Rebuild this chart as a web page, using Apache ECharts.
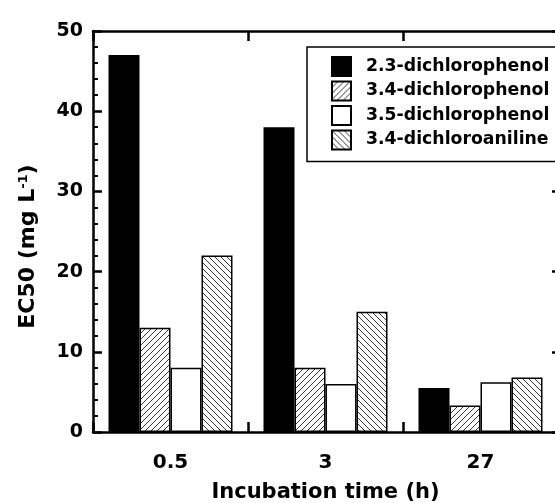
<!DOCTYPE html>
<html><head><meta charset="utf-8">
<script src="https://cdn.jsdelivr.net/npm/echarts@6/dist/echarts.min.js"></script>
<style>html,body{margin:0;padding:0;background:#fff}#c{width:555px;height:503px}</style>
</head><body><div id="c"></div>
<script>
const categories = ['0.5', '3', '27'];
const seriesNames = ['2.3-dichlorophenol', '3.4-dichlorophenol', '3.5-dichlorophenol', '3.4-dichloroaniline'];
const dcp23 = [47, 38, 5.5];
const dcp34 = [13, 8, 3.3];
const dcp35 = [8, 6, 6.2];
const dca34 = [22, 15, 6.8];
const yTicks = [0, 10, 20, 30, 40, 50];

function hatch(dir) {
  const s = 6, c = document.createElement('canvas');
  c.width = s; c.height = s;
  const g = c.getContext('2d');
  g.fillStyle = '#fff'; g.fillRect(0, 0, s, s);
  g.strokeStyle = '#222'; g.lineWidth = 0.9;
  g.beginPath();
  if (dir === '/') {
    g.moveTo(-1, s + 1); g.lineTo(s + 1, -1);
    g.moveTo(-1, 1); g.lineTo(1, -1);
    g.moveTo(s - 1, s + 1); g.lineTo(s + 1, s - 1);
  } else {
    g.moveTo(-1, -1); g.lineTo(s + 1, s + 1);
    g.moveTo(s - 1, -1); g.lineTo(s + 1, 1);
    g.moveTo(-1, s - 1); g.lineTo(1, s + 1);
  }
  g.stroke();
  return { image: c, repeat: 'repeat' };
}

const font = 'DejaVu Sans';
const fills = ['#000', hatch('/'), '#fff', hatch('\\')];
const datas = [dcp23, dcp34, dcp35, dca34];

const chart = echarts.init(document.getElementById('c'), null, { renderer: 'canvas' });
const axisLine = { show: true, onZero: false, lineStyle: { color: '#000', width: 2.5 } };
chart.setOption({
  animation: false,
  backgroundColor: '#fff',
  grid: { left: 93, top: 31, right: -3, bottom: 71, containLabel: false, outerBoundsMode: 'none' },
  legend: {
    orient: 'vertical', left: 307, top: 47, z: 20,
    backgroundColor: '#fff',
    borderColor: '#000', borderWidth: 1.5, borderRadius: 0,
    padding: [9, 40, 11, 24],
    itemWidth: 19, itemHeight: 19, itemGap: 3.5,
    icon: 'rect',
    textStyle: { fontFamily: font, fontWeight: 'bold', fontSize: 17.3, color: '#000', padding: [0, 0, 0, 10] },
    data: seriesNames
  },
  xAxis: [{
    type: 'category', data: categories, position: 'bottom',
    axisLine: axisLine,
    axisTick: { show: true, inside: true, length: 10, lineStyle: { color: '#000', width: 2.5 } },
    axisLabel: { fontFamily: font, fontWeight: 'bold', fontSize: 20, color: '#000', margin: 21 },
    name: 'Incubation time (h)', nameLocation: 'middle', nameGap: 50,
    nameTextStyle: { fontFamily: font, fontWeight: 'bold', fontSize: 21, color: '#000' }
  }, {
    type: 'category', data: categories, position: 'top',
    axisLine: axisLine,
    axisTick: { show: true, inside: true, length: 10, lineStyle: { color: '#000', width: 2.5 } },
    axisLabel: { show: false }
  }],
  yAxis: [{
    type: 'value', min: yTicks[0], max: yTicks[yTicks.length - 1], interval: 10, position: 'left',
    axisLine: axisLine,
    axisTick: { show: true, inside: true, length: 9, lineStyle: { color: '#000', width: 2.5 } },
    minorTick: { show: true, splitNumber: 5, length: 5, lineStyle: { color: '#000', width: 2 } },
    splitLine: { show: false },
    axisLabel: { fontFamily: font, fontWeight: 'bold', fontSize: 19, color: '#000', margin: 10, padding: [0, 0, 8, 0] },
    name: 'EC50 (mg L{sup|-1})', nameLocation: 'middle', nameGap: 53,
    nameTextStyle: { fontFamily: font, fontWeight: 'bold', fontSize: 22, color: '#000', padding: [0, 30, 0, 0],
      rich: { sup: { fontFamily: font, fontWeight: 'bold', fontSize: 13, color: '#000', verticalAlign: 'top', padding: [0, 0, 10, 0] } } }
  }, {
    type: 'value', min: yTicks[0], max: yTicks[yTicks.length - 1], interval: 10, position: 'right',
    axisLine: axisLine,
    axisTick: { show: true, inside: true, length: 6, lineStyle: { color: '#000', width: 2.5 } },
    minorTick: { show: true, splitNumber: 5, length: 3, lineStyle: { color: '#000', width: 1.5 } },
    splitLine: { show: false },
    axisLabel: { show: false }
  }],
  series: seriesNames.map((n, i) => ({
    name: n, type: 'bar', xAxisIndex: 0, yAxisIndex: 0,
    data: datas[i],
    barGap: '0%', barCategoryGap: '20%',
    itemStyle: { color: fills[i], borderColor: '#000', borderWidth: 1.5 }
  }))
});
</script></body></html>
